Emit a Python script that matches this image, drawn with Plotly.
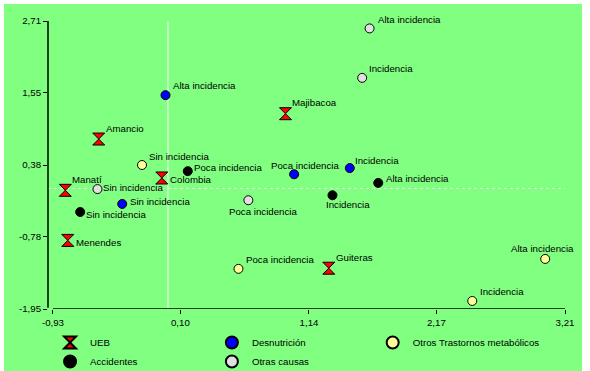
import plotly.graph_objects as go

# ---------------- data ----------------
ueb_labels = ["Amancio", "Majibacoa", "Colombia", "Manatí", "Menendes", "Guiteras"]
ueb_x = [-0.56, 0.95, -0.05, -0.83, -0.81, 1.30]
ueb_y = [0.80, 1.21, 0.17, -0.03, -0.84, -1.29]

desn_labels = ["Alta incidencia", "Poca incidencia", "Incidencia", "Sin incidencia"]
desn_x = [-0.02, 1.02, 1.47, -0.37]
desn_y = [1.51, 0.23, 0.33, -0.25]

otm_labels = ["Sin incidencia", "Poca incidencia", "Alta incidencia", "Incidencia"]
otm_x = [-0.21, 0.57, 3.05, 2.46]
otm_y = [0.38, -1.30, -1.14, -1.82]

acc_labels = ["Poca incidencia", "Alta incidencia", "Incidencia", "Sin incidencia"]
acc_x = [0.16, 1.70, 1.33, -0.71]
acc_y = [0.28, 0.09, -0.11, -0.38]

otras_labels = ["Alta incidencia", "Incidencia", "Sin incidencia", "Poca incidencia"]
otras_x = [1.63, 1.57, -0.57, 0.65]
otras_y = [2.59, 1.79, -0.01, -0.19]

series_names = ["UEB", "Desnutrición", "Otros Trastornos metabólicos", "Accidentes", "Otras causas"]

x_ticks = [-0.93, 0.10, 1.14, 2.17, 3.21]
x_ticktext = ["-0,93", "0,10", "1,14", "2,17", "3,21"]
y_ticks = [-1.95, -0.78, 0.38, 1.55, 2.71]
y_ticktext = ["-1,95", "-0,78", "0,38", "1,55", "2,71"]

# ---------------- style ----------------
FONT = "Liberation Sans, Arial, sans-serif"
GREEN = "#80FF80"
TXT = dict(family=FONT, size=9.7, color="black")

# label offsets (pixels, dx right, dy down) of the label's left/middle from its marker
ueb_off = [(6, -11), (6, -11), (7, 2), (6, -11), (7, 2), (6, -11)]
desn_off = [(6, -10), (-24, -9), (4, -8), (7, -2)]
otm_off = [(6, -9), (7, -9), (-35, -10), (7, -9)]
acc_off = [(5, -4), (7, -4), (-7, 9), (5, 3)]
otras_off = [(7, -9), (6, -9), (5, -2), (-20, 11)]

fig = go.Figure()
annotations = []

def add(name, xs, ys, labels, offs, color, symbol, size, legend):
    fig.add_trace(go.Scatter(
        x=xs, y=ys, mode="markers", name=name, legend=legend,
        marker=dict(color=color, symbol=symbol, size=size,
                    line=dict(color="black", width=1)),
        cliponaxis=False, hoverinfo="skip",
    ))
    for xv, yv, lab, (dx, dy) in zip(xs, ys, labels, offs):
        annotations.append(dict(
            x=xv, y=yv, xref="x", yref="y", text=lab, showarrow=False,
            xanchor="left", yanchor="middle", xshift=dx, yshift=-dy,
            font=TXT, borderpad=0))

add(series_names[0], ueb_x, ueb_y, ueb_labels, ueb_off, "#FF0000", "hourglass", 12, "legend")
add(series_names[3], acc_x, acc_y, acc_labels, acc_off, "#000000", "circle", 9, "legend")
add(series_names[1], desn_x, desn_y, desn_labels, desn_off, "#0000FF", "circle", 9, "legend2")
add(series_names[4], otras_x, otras_y, otras_labels, otras_off, "#E0E0E0", "circle", 9, "legend2")
add(series_names[2], otm_x, otm_y, otm_labels, otm_off, "#FFFF99", "circle", 9, "legend3")

shapes = [
    # green background panel with thin white border
    dict(type="rect", xref="paper", yref="paper",
         x0=-44/517, x1=534/517, y0=-62/288, y1=305/288,
         fillcolor=GREEN, line=dict(width=0), layer="below"),
    # reference lines at 0
    dict(type="line", xref="x", yref="paper", x0=0, x1=0, y0=0, y1=1,
         line=dict(color="white", width=1), layer="below"),
    dict(type="line", xref="paper", yref="y", x0=0, x1=1, y0=0, y1=0,
         line=dict(color="#E8E8E8", width=1, dash="dot"), layer="below"),
    # axis lines
    dict(type="line", xref="paper", yref="y", x0=0, x1=0, y0=-1.93, y1=2.71,
         line=dict(color="black", width=1.5)),
    dict(type="line", xref="x", yref="y", x0=-0.93, x1=3.21, y0=-1.95, y1=-1.95,
         line=dict(color="black", width=1.5)),
]

LEG = dict(orientation="v", xanchor="left", y=-0.066, yanchor="top",
           itemsizing="constant", bgcolor="rgba(0,0,0,0)", tracegroupgap=0,
           font=dict(family=FONT, size=9.7, color="black"))

fig.update_layout(
    width=590, height=371,
    margin=dict(l=48, r=25, t=21, b=62, autoexpand=False),
    paper_bgcolor="white", plot_bgcolor=GREEN,
    font=dict(family=FONT, size=9.7, color="black"),
    shapes=shapes,
    annotations=annotations,
    showlegend=True,
    legend=dict(LEG, x=0.004),
    legend2=dict(LEG, x=0.317),
    legend3=dict(LEG, x=0.628),
    hovermode=False,
    xaxis=dict(range=[-0.97, 3.21], showgrid=False, zeroline=False, showline=False,
               tickvals=x_ticks, ticktext=x_ticktext, ticks="outside", ticklen=4,
               tickcolor="black", tickwidth=1, tickfont=dict(family=FONT, size=9.7)),
    yaxis=dict(range=[-1.95, 2.71], showgrid=False, zeroline=False, showline=False,
               tickvals=y_ticks, ticktext=y_ticktext, ticks="outside", ticklen=4,
               tickcolor="black", tickwidth=1, tickfont=dict(family=FONT, size=9.7)),
)

fig.write_html("out.html", config={"displayModeBar": False},
               post_script="document.body.style.margin='0';")
